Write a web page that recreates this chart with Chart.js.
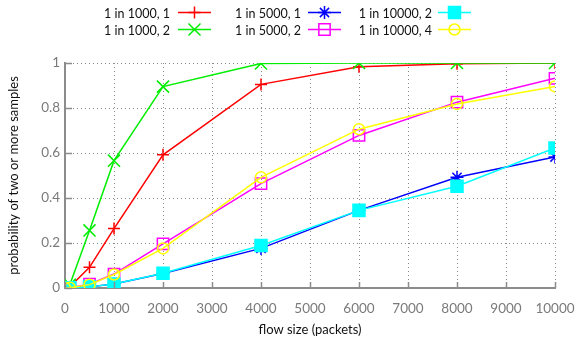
<!DOCTYPE html>
<html>
<head>
<meta charset="utf-8">
<script src="https://cdn.jsdelivr.net/npm/chart.js@4/dist/chart.umd.min.js"></script>
<style>
  html, body { margin: 0; padding: 0; background: #fff; }
  #wrap { width: 576px; height: 344px; position: relative; }
</style>
</head>
<body>
<div id="wrap"><canvas id="c" width="576" height="344"></canvas></div>
<script>
// Flow sizes (packets) at which each sampling setting was evaluated
const flowSizes = [0, 100, 500, 1000, 2000, 4000, 6000, 8000, 10000];

// Probability of two or more samples for each sampling setting
const rate1000x1  = [0, 0.005, 0.092, 0.264, 0.592, 0.905, 0.983, 0.997, 1.0];
const rate1000x2  = [0, 0.015, 0.256, 0.566, 0.895, 0.998, 1.0, 1.0, 1.0];
const rate5000x1  = [0, 0.001, 0.005, 0.018, 0.064, 0.176, 0.345, 0.492, 0.582];
const rate5000x2  = [0, 0.001, 0.017, 0.062, 0.196, 0.464, 0.678, 0.826, 0.932];
const rate10000x2 = [0, 0.001, 0.005, 0.018, 0.066, 0.189, 0.345, 0.452, 0.622];
const rate10000x4 = [0, 0.001, 0.015, 0.060, 0.176, 0.492, 0.706, 0.818, 0.896];

const seriesLabels = ['1 in 1000, 1', '1 in 1000, 2', '1 in 5000, 1',
                      '1 in 5000, 2', '1 in 10000, 2', '1 in 10000, 4'];

const xTicks = [0, 1000, 2000, 3000, 4000, 5000, 6000, 7000, 8000, 9000, 10000];
const yTicks = [0, 0.2, 0.4, 0.6, 0.8, 1];

const FONT = 'Lato, "DejaVu Sans", sans-serif';
const AXIS_GREY = '#8c8c8c';
const GRID_GREY = '#8a8a8a';

function pts(values) {
  return flowSizes.map((x, i) => ({ x: x, y: values[i] }));
}

const styles = [
  { color: '#ff0000', pointStyle: 'cross',    radius: 6,   fill: false },
  { color: '#00ee00', pointStyle: 'crossRot', radius: 8.5, fill: false },
  { color: '#0000ff', pointStyle: 'star',     radius: 6.5, fill: false },
  { color: '#ff00ff', pointStyle: 'rect',     radius: 8,   fill: false },
  { color: '#00ffff', pointStyle: 'rect',     radius: 8.5, fill: true  },
  { color: '#ffff00', pointStyle: 'circle',   radius: 5.5, fill: false }
];
const seriesData = [rate1000x1, rate1000x2, rate5000x1, rate5000x2, rate10000x2, rate10000x4];

const datasets = seriesData.map((vals, i) => {
  const s = styles[i];
  return {
    label: seriesLabels[i],
    data: pts(vals),
    borderColor: s.color,
    backgroundColor: s.fill ? s.color : 'rgba(0,0,0,0)',
    pointBorderColor: s.color,
    pointBackgroundColor: s.fill ? s.color : 'rgba(0,0,0,0)',
    pointStyle: s.pointStyle,
    pointRadius: s.radius,
    pointHoverRadius: s.radius,
    pointBorderWidth: 1.5,
    borderWidth: 1.5,
    tension: 0,
    fill: false,
    order: seriesData.length - i
  };
});

// Dotted grid, drawn at the scale tick positions behind the data
const dottedGrid = {
  id: 'dottedGrid',
  beforeDatasetsDraw(chart) {
    const { ctx, chartArea, scales } = chart;
    ctx.save();
    ctx.strokeStyle = GRID_GREY;
    ctx.lineWidth = 1;
    ctx.setLineDash([1, 3]);
    ctx.beginPath();
    xTicks.slice(1).forEach(v => {
      const px = Math.round(scales.x.getPixelForValue(v)) + 0.5;
      ctx.moveTo(px, chartArea.bottom);
      ctx.lineTo(px, chartArea.top);
    });
    yTicks.slice(1).forEach(v => {
      const py = Math.round(scales.y.getPixelForValue(v)) + 0.5;
      ctx.moveTo(chartArea.left, py);
      ctx.lineTo(chartArea.right, py);
    });
    ctx.stroke();
    ctx.restore();
  },
  // Short inward tick marks on the left and bottom axes
  afterDatasetsDraw(chart) {
    const { ctx, chartArea, scales } = chart;
    ctx.save();
    ctx.strokeStyle = AXIS_GREY;
    ctx.lineWidth = 1.5;
    ctx.beginPath();
    xTicks.forEach(v => {
      const px = Math.round(scales.x.getPixelForValue(v)) + 0.5;
      ctx.moveTo(px, chartArea.bottom);
      ctx.lineTo(px, chartArea.bottom - 6);
    });
    yTicks.forEach(v => {
      const py = Math.round(scales.y.getPixelForValue(v)) + 0.5;
      ctx.moveTo(chartArea.left, py);
      ctx.lineTo(chartArea.left + 7, py);
    });
    ctx.stroke();
    ctx.restore();
  }
};

// Two-row key: label text right-aligned, then a line sample with its marker
const keyLegend = {
  id: 'keyLegend',
  afterDraw(chart) {
    const { ctx } = chart;
    const textRight = [170, 301, 432];
    const lineStart = [178, 308, 438];
    const lineLen = 33;
    const rowY = [12.5, 29.5];
    ctx.save();
    ctx.font = '12.5px ' + FONT;
    ctx.textAlign = 'right';
    ctx.textBaseline = 'middle';
    chart.data.datasets.forEach((ds, i) => {
      const col = Math.floor(i / 2), row = i % 2;
      const y = rowY[row];
      ctx.fillStyle = '#111';
      ctx.fillText(ds.label, textRight[col], y + 1);
      ctx.strokeStyle = ds.borderColor;
      ctx.lineWidth = 1.5;
      ctx.beginPath();
      ctx.moveTo(lineStart[col], y);
      ctx.lineTo(lineStart[col] + lineLen, y);
      ctx.stroke();
      ctx.fillStyle = ds.pointBackgroundColor;
      ctx.strokeStyle = ds.pointBorderColor;
      Chart.helpers.drawPoint(ctx, {
        pointStyle: ds.pointStyle,
        radius: ds.pointRadius,
        borderWidth: 1.5,
        rotation: 0
      }, lineStart[col] + lineLen / 2, y);
    });
    ctx.restore();
  }
};

const hiddenGrid = { display: true, drawOnChartArea: false, drawTicks: false, color: 'rgba(0,0,0,0)' };

new Chart(document.getElementById('c'), {
  type: 'line',
  data: { datasets: datasets },
  plugins: [dottedGrid, keyLegend],
  options: {
    responsive: false,
    animation: false,
    devicePixelRatio: 1,
    layout: { padding: { top: 63, right: 21, bottom: 0, left: 0 } },
    plugins: { legend: { display: false }, tooltip: { enabled: false } },
    scales: {
      x: {
        type: 'linear',
        min: 0, max: 10000,
        afterFit(scale) {
          scale.height = 56;
          scale.paddingLeft = 0;
          scale.paddingRight = 0;
        },
        afterBuildTicks(scale) { scale.ticks = xTicks.map(v => ({ value: v })); },
        ticks: { color: '#7a7a7a', font: { family: FONT, size: 13.5 }, padding: 13, maxRotation: 0,
                 callback: v => String(v) },
        grid: hiddenGrid,
        border: { display: true, color: AXIS_GREY, width: 2 },
        title: { display: true, text: 'flow size (packets)', color: '#111',
                 font: { family: FONT, size: 13 }, padding: { top: 0, bottom: 6 } }
      },
      y: {
        min: 0, max: 1,
        afterFit(scale) {
          scale.width = 65;
          scale.paddingTop = 0;
          scale.paddingBottom = 0;
        },
        afterBuildTicks(scale) { scale.ticks = yTicks.map(v => ({ value: v })); },
        ticks: { color: '#7a7a7a', font: { family: FONT, size: 13.5 }, padding: 5,
                 callback: v => String(v) },
        grid: hiddenGrid,
        border: { display: true, color: AXIS_GREY, width: 2 },
        title: { display: true, text: 'probability of two or more samples', color: '#111',
                 font: { family: FONT, size: 13 }, padding: { top: 6, bottom: 0 } }
      }
    }
  }
});
</script>
</body>
</html>
